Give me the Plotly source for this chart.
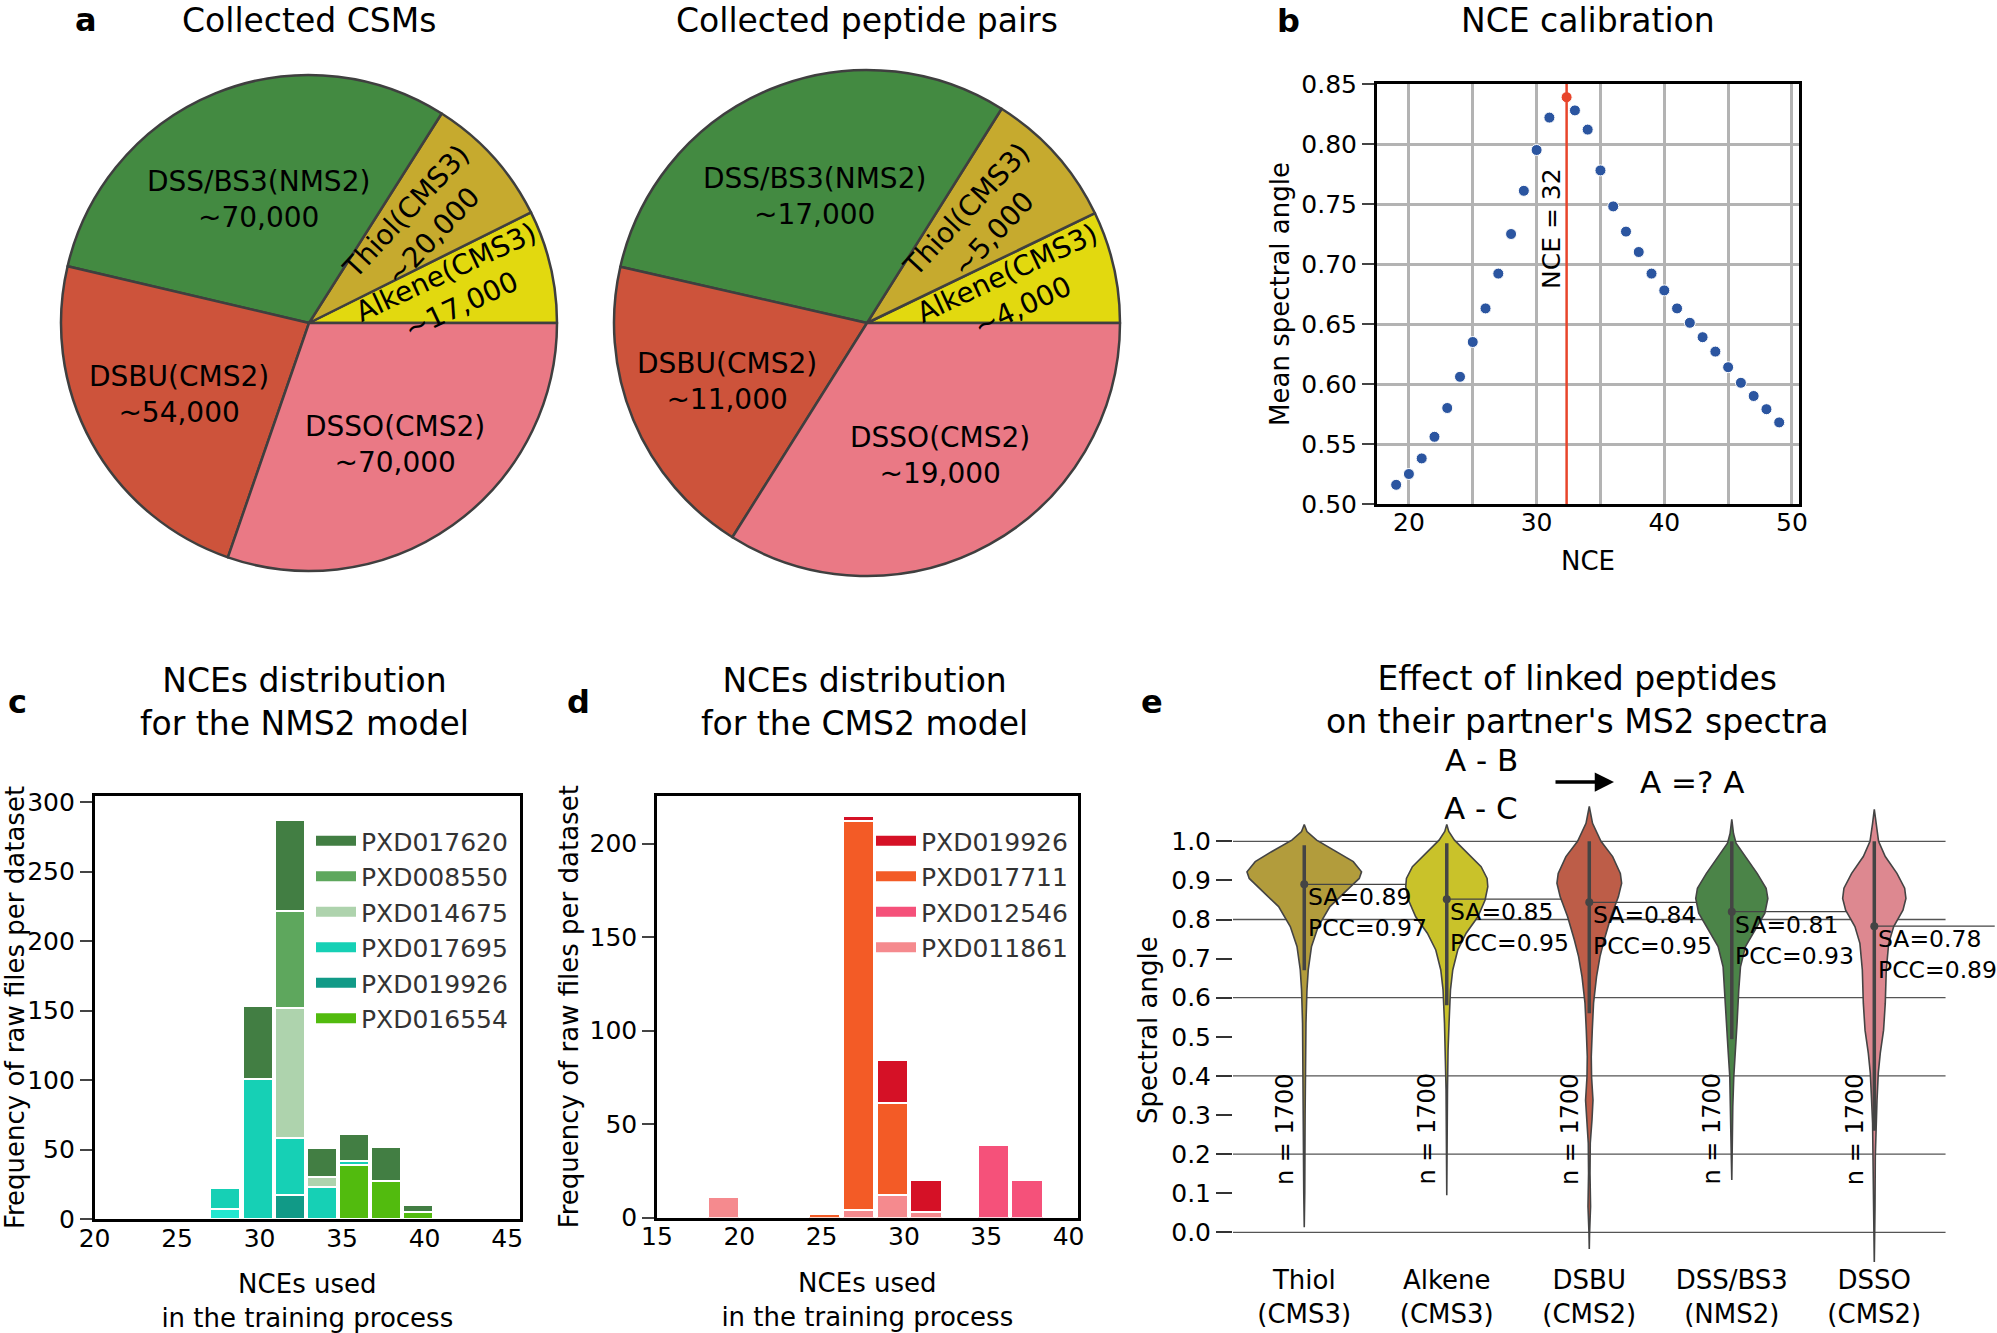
import math
import plotly.graph_objects as go

W, H = 1997, 1333
FONT = "DejaVu Sans"

# ---------------- data ----------------
# panel a (pie charts), slices counter-clockwise from 3 o'clock
pie_labels = ["Alkene(CMS3)", "Thiol(CMS3)", "DSS/BS3(NMS2)", "DSBU(CMS2)", "DSSO(CMS2)"]
csm_counts = [17000, 20000, 70000, 54000, 70000]
pair_counts = [4000, 5000, 17000, 11000, 19000]

# panel b (NCE calibration)
nce_values = [19, 20, 21, 22, 23, 24, 25, 26, 27, 28, 29, 30, 31,
              33, 34, 35, 36, 37, 38, 39, 40, 41, 42, 43, 44, 45, 46, 47, 48, 49]
nce_angles = [0.516, 0.525, 0.538, 0.556, 0.580, 0.606, 0.635, 0.663, 0.692, 0.725,
              0.761, 0.795, 0.822,
              0.828, 0.812, 0.778, 0.748, 0.727, 0.710, 0.692, 0.678, 0.663, 0.651,
              0.639, 0.627, 0.614, 0.601, 0.590, 0.579, 0.568]
best_nce = 32.35
best_angle = 0.839
best_label = "NCE = 32"

# panel c (NMS2 model, stacked histogram, bottom -> top)
c_bins = [27.90, 29.86, 31.80, 33.74, 35.69, 37.64, 39.59]
c_series = [
    ("", [7, 0, 0, 0, 0, 0, 0]),
    ("PXD016554", [0, 0, 0, 0, 39, 27, 5]),
    ("PXD019926", [0, 0, 17, 0, 0, 0, 0]),
    ("PXD017695", [15, 101, 41, 23, 3, 0, 0]),
    ("PXD014675", [0, 0, 94, 7, 0, 0, 0]),
    ("PXD008550", [0, 0, 70, 0, 0, 0, 0]),
    ("PXD017620", [0, 52, 65, 21, 19, 25, 5]),
]

# panel d (CMS2 model, stacked histogram, bottom -> top)
d_bins = [19.06, 25.19, 27.24, 29.29, 31.34, 35.43, 37.48]
d_series = [
    ("PXD011861", [11, 0, 4, 12, 3, 0, 0]),
    ("PXD012546", [0, 0, 0, 0, 0, 39, 20]),
    ("PXD017711", [0, 2, 208, 49, 0, 0, 0]),
    ("PXD019926", [0, 0, 3, 23, 17, 0, 0]),
]

# panel e (violins: spectral angle level -> half width)
e_categories = ["Thiol<br>(CMS3)", "Alkene<br>(CMS3)", "DSBU<br>(CMS2)",
                "DSS/BS3<br>(NMS2)", "DSSO<br>(CMS2)"]
thiol_y = [1.043, 1.025, 1.003, 0.974, 0.948, 0.922, 0.905, 0.893, 0.867, 0.833, 0.782,
           0.731, 0.671, 0.62, 0.535, 0.45, 0.3, 0.1, 0.013]
thiol_w = [0, .019, .087, .227, .344, .402, .386, .351, .274, .180, .098,
           .051, .028, .019, .012, .008, .006, .0035, 0]
alkene_y = [1.043, 1.025, 1.003, 0.969, 0.935, 0.905, 0.884, 0.85, 0.807, 0.765, 0.722,
            0.671, 0.62, 0.535, 0.466, 0.364, 0.095]
alkene_w = [0, .014, .054, .147, .241, .283, .288, .269, .218, .136, .077,
            .042, .026, .016, .009, .005, 0]
dsbu_y = [1.089, 1.046, 1.0, 0.961, 0.918, 0.893, 0.858, 0.807, 0.748, 0.705, 0.654,
          0.586, 0.517, 0.449, 0.398, 0.338, 0.287, 0.228, 0.151, 0.066, -0.003, -0.043]
dsbu_w = [0, .023, .082, .164, .218, .227, .204, .152, .105, .075, .051,
          .030, .021, .014, .016, .026, .019, .007, .005, .009, .002, 0]
dss_y = [1.056, 1.02, 0.995, 0.961, 0.918, 0.88, 0.854, 0.816, 0.773, 0.731, 0.679,
         0.62, 0.535, 0.466, 0.398, 0.321, 0.194, 0.134]
dss_w = [0, .012, .030, .096, .178, .241, .253, .232, .166, .096, .061,
         .049, .037, .026, .014, .007, .0035, 0]
dsso_y = [1.082, 1.046, 1.0, 0.961, 0.918, 0.88, 0.854, 0.824, 0.782, 0.739, 0.671,
          0.586, 0.517, 0.458, 0.407, 0.338, 0.279, 0.194, 0.066, -0.079]
dsso_w = [0, .012, .030, .077, .159, .213, .222, .201, .136, .101, .084,
          .077, .065, .042, .028, .019, .012, .007, .005, 0]
violin_profiles = [(thiol_y, thiol_w), (alkene_y, alkene_w), (dsbu_y, dsbu_w),
                   (dss_y, dss_w), (dsso_y, dsso_w)]
inner_low = [0.67, 0.581, 0.56, 0.494, 0.26]
inner_high = [0.99, 0.995, 1.0, 1.0, 1.0]
mean_sa = [0.890, 0.852, 0.844, 0.820, 0.783]
sa_text = ["0.89", "0.85", "0.84", "0.81", "0.78"]
pcc_text = ["0.97", "0.95", "0.95", "0.93", "0.89"]
n_pairs = [1700, 1700, 1700, 1700, 1700]
e_yticks = [0.0, 0.1, 0.2, 0.3, 0.4, 0.5, 0.6, 0.7, 0.8, 0.9, 1.0]
e_grid = [0.0, 0.2, 0.4, 0.6, 0.8, 1.0]

# ---------------- styles ----------------
pie_colors = ["#e2d90f", "#c6aa2e", "#438a41", "#cd533b", "#ea7985"]
label_rotation = {"Thiol(CMS3)": 47, "Alkene(CMS3)": 25}
label_distance = {"DSS/BS3(NMS2)": 0.54}
c_colors = {"": "#22e6cf", "PXD016554": "#52bb0e", "PXD019926": "#119a87",
            "PXD017695": "#16d0b5", "PXD014675": "#aed3ad", "PXD008550": "#5ea75d",
            "PXD017620": "#427e43"}
d_colors = {"PXD011861": "#f58a8e", "PXD012546": "#f5517a", "PXD017711": "#f35b26",
            "PXD019926": "#d51126"}
violin_colors = ["#b29c3c", "#c9c22a", "#bd5d48", "#4b8448", "#dd8890"]
DARK = "#444444"


def px_x(x):
    return x / W


def px_y(y):
    return 1 - y / H


def note(text, x, y, size, **kw):
    d = dict(text=text, x=x, y=y, xref="paper", yref="paper", showarrow=False,
             xanchor="center", yanchor="middle", font=dict(size=size, family=FONT,
                                                          color="black"))
    d.update(kw)
    return d


fig = go.Figure()
annotations = []
shapes = []

# ---------------- panel a ----------------
pies = [(csm_counts, 309, 323, 248, "Collected CSMs"),
        (pair_counts, 867, 323, 253, "Collected peptide pairs")]
for vals, cx, cy, r, title in pies:
    total = sum(vals)
    first_span = 360.0 * vals[0] / total
    # counter-clockwise pie whose first slice starts at 3 o'clock
    fig.add_trace(go.Pie(
        values=vals, labels=pie_labels, sort=False, direction="counterclockwise",
        rotation=90 - first_span, textinfo="none", hoverinfo="label+value",
        showlegend=False,
        marker=dict(colors=pie_colors, line=dict(color="#3f3f3f", width=2.5)),
        domain=dict(x=[px_x(cx - r), px_x(cx + r)], y=[px_y(cy + r), px_y(cy - r)]),
    ))
    start = 0.0
    for lab, v in zip(pie_labels, vals):
        span = 360.0 * v / total
        mid = math.radians(start + span / 2)
        start += span
        dist = label_distance.get(lab, 0.6) * r
        tx = cx + dist * math.cos(mid)
        ty = cy - dist * math.sin(mid)
        annotations.append(note(f"{lab}<br>~{v:,}", px_x(tx), px_y(ty), 28,
                                textangle=-label_rotation.get(lab, 0)))
    annotations.append(note(title, px_x(cx), px_y(21), 33))

# ---------------- panel b ----------------
fig.add_trace(go.Scatter(
    x=nce_values, y=nce_angles, mode="markers", showlegend=False,
    marker=dict(color="#2b55a0", size=11, line=dict(color="white", width=1)),
    xaxis="x", yaxis="y"))
fig.add_trace(go.Scatter(
    x=[best_nce], y=[best_angle], mode="markers", showlegend=False,
    marker=dict(color="#e8452b", size=11, line=dict(color="white", width=1)),
    xaxis="x", yaxis="y"))
shapes.append(dict(type="line", xref="x", yref="y domain", x0=best_nce, x1=best_nce,
                   y0=0, y1=1, line=dict(color="#e8452b", width=2.5)))
annotations.append(dict(text=best_label, x=best_nce - 1.15, y=0.73, xref="x", yref="y",
                        showarrow=False, textangle=-90, xanchor="center",
                        yanchor="middle", font=dict(size=25)))
annotations.append(note("NCE calibration", px_x(1588), px_y(21), 33))


# ---------------- panels c, d (stacked histograms) ----------------
def add_hist(series, bins, colors, width, xa, ya, legend_id):
    for name, vals in series:
        fig.add_trace(go.Bar(
            x=bins, y=[v if v else None for v in vals], width=width, name=name,
            legendgroup=f"{legend_id}-{name}",
            marker=dict(color=colors[name], line=dict(color="white", width=2)),
            showlegend=False, xaxis=xa, yaxis=ya))
        if name:
            # legend entry drawn as a wide colour patch
            fig.add_trace(go.Scatter(
                x=[None], y=[None], mode="lines", name=name,
                legendgroup=f"{legend_id}-{name}", legend=legend_id,
                line=dict(color=colors[name], width=13), showlegend=True,
                xaxis=xa, yaxis=ya))


add_hist(c_series, c_bins, c_colors, 1.82, "x2", "y2", "legend")
add_hist(d_series, d_bins, d_colors, 1.9, "x3", "y3", "legend2")

annotations.append(note("NCEs distribution<br>for the NMS2 model", px_x(304), px_y(702), 33))
annotations.append(note("NCEs distribution<br>for the CMS2 model", px_x(864), px_y(702), 33))

# ---------------- panel e ----------------
for g in e_grid:
    shapes.append(dict(type="line", xref="x4", yref="y4", x0=-0.5, x1=4.5, y0=g, y1=g,
                       line=dict(color="#555555", width=1.3), layer="below"))
for i, (ys, ws) in enumerate(violin_profiles):
    xs = [i + w for w in ws] + [i - w for w in reversed(ws)]
    yy = list(ys) + list(reversed(ys))
    fig.add_trace(go.Scatter(
        x=xs + [xs[0]], y=yy + [yy[0]], mode="lines", fill="toself",
        fillcolor=violin_colors[i], line=dict(color=DARK, width=1.6),
        showlegend=False, hoverinfo="skip", xaxis="x4", yaxis="y4"))
    fig.add_trace(go.Scatter(
        x=[i, i], y=[inner_low[i], inner_high[i]], mode="lines",
        line=dict(color=DARK, width=3.5), showlegend=False, hoverinfo="skip",
        xaxis="x4", yaxis="y4"))
    fig.add_trace(go.Scatter(
        x=[i, i + 0.845], y=[mean_sa[i], mean_sa[i]], mode="lines",
        line=dict(color=DARK, width=1.2), showlegend=False, hoverinfo="skip",
        xaxis="x4", yaxis="y4"))
    annotations.append(dict(
        text=f"SA={sa_text[i]}<br>PCC={pcc_text[i]}", x=i + 0.01, y=mean_sa[i] - 0.073,
        xref="x4", yref="y4", showarrow=False, xanchor="left", yanchor="middle",
        align="left", font=dict(size=23.5)))
    annotations.append(dict(
        text=f"n = {n_pairs[i]}", x=i - 0.135, y=0.264, xref="x4", yref="y4",
        showarrow=False, textangle=-90, xanchor="center", yanchor="middle",
        font=dict(size=24)))
fig.add_trace(go.Scatter(
    x=list(range(len(mean_sa))), y=mean_sa, mode="markers",
    marker=dict(color=DARK, size=8), showlegend=False, xaxis="x4", yaxis="y4"))

annotations.append(note("Effect of linked peptides<br>on their partner's MS2 spectra",
                        px_x(1577), px_y(700), 33))
annotations.append(note("A - B", px_x(1481), px_y(760), 31))
annotations.append(note("A - C", px_x(1481), px_y(808), 31))
annotations.append(note("A =? A", px_x(1692), px_y(782), 31))
annotations.append(dict(text="", x=px_x(1614), y=px_y(782), xref="paper", yref="paper",
                        showarrow=True, ax=-60, ay=0, axref="pixel", ayref="pixel",
                        arrowhead=2, arrowsize=1.1, arrowwidth=3.5, arrowcolor="black"))

# panel letters
for letter, lx, ly in [("a", 86, 20), ("b", 1288, 21), ("c", 17, 702), ("d", 578, 702),
                       ("e", 1152, 702)]:
    annotations.append(note(f"<b>{letter}</b>", px_x(lx), px_y(ly), 32))

# ---------------- axes ----------------
GRID = "#b3b3b3"
frame = dict(showline=True, linecolor="black", linewidth=3, mirror=True, zeroline=False)
tickf = dict(size=25, family=FONT, color="black")
titlef = dict(size=26, family=FONT, color="black")

fig.update_layout(
    width=W, height=H, margin=dict(l=0, r=0, t=0, b=0, pad=0, autoexpand=False),
    paper_bgcolor="white", plot_bgcolor="white",
    font=dict(family=FONT, size=25, color="black"),
    barmode="stack", bargap=0,
    annotations=annotations, shapes=shapes,
    xaxis=dict(domain=[px_x(1377), px_x(1799)], range=[17.5, 50.55], anchor="y",
               tick0=0, dtick=10, showgrid=True, gridcolor=GRID, gridwidth=3,
               minor=dict(dtick=5, tick0=0, showgrid=True, gridcolor=GRID, gridwidth=3,
                          ticks=""),
               ticks="", tickfont=tickf, ticklabelstandoff=-6,
               title=dict(text="NCE", font=titlef, standoff=16), **frame),
    yaxis=dict(domain=[px_y(504), px_y(84)], range=[0.5, 0.85], anchor="x",
               tick0=0.5, dtick=0.05, tickformat=".2f", showgrid=True, gridcolor=GRID,
               gridwidth=3, ticks="outside", ticklen=12, tickwidth=2, tickfont=tickf,
               title=dict(text="Mean spectral angle", font=titlef, standoff=5), **frame),
    xaxis2=dict(domain=[px_x(94.6), px_x(520)], range=[20, 45.78], anchor="y2",
                tick0=0, dtick=5, ticks="", showgrid=False, tickfont=tickf,
                ticklabelstandoff=-5,
                title=dict(text="NCEs used<br>in the training process", font=titlef,
                           standoff=24), **dict(frame, linewidth=2.5)),
    yaxis2=dict(domain=[px_y(1219), px_y(796)], range=[0, 304.5], anchor="x2",
                tick0=0, dtick=50, ticks="outside", ticklen=12, tickwidth=2,
                showgrid=False, tickfont=tickf,
                title=dict(text="Frequency of raw files per dataset", font=titlef,
                           standoff=4), **dict(frame, linewidth=2.5)),
    xaxis3=dict(domain=[px_x(657), px_x(1077.6)], range=[15, 40.55], anchor="y3",
                tick0=0, dtick=5, ticks="", showgrid=False, tickfont=tickf,
                ticklabelstandoff=-5,
                title=dict(text="NCEs used<br>in the training process", font=titlef,
                           standoff=24), **dict(frame, linewidth=2.5)),
    yaxis3=dict(domain=[px_y(1217.5), px_y(796)], range=[0, 225.5], anchor="x3",
                tick0=0, dtick=50, ticks="outside", ticklen=12, tickwidth=2,
                showgrid=False, tickfont=tickf,
                title=dict(text="Frequency of raw files per dataset", font=titlef,
                           standoff=4), **dict(frame, linewidth=2.5)),
    xaxis4=dict(domain=[px_x(1233), 1.0], range=[-0.5, 4.861], anchor="y4",
                tickmode="array", tickvals=list(range(len(e_categories))),
                ticktext=e_categories, ticks="", showgrid=False, showline=False,
                zeroline=False, ticklabelstandoff=0,
                tickfont=dict(size=26, family=FONT, color="black")),
    yaxis4=dict(domain=[px_y(1262), px_y(798.3)], range=[-0.076, 1.11], anchor="x4",
                tickmode="array", tickvals=e_yticks,
                ticktext=[f"{v:.1f}" for v in e_yticks], ticks="outside", ticklen=16,
                tickwidth=2, tickcolor="#333333", showgrid=False, showline=False,
                zeroline=False, tickfont=tickf,
                title=dict(text="Spectral angle", font=titlef, standoff=6)),
    legend=dict(x=px_x(311), y=px_y(818), xanchor="left", yanchor="top",
                traceorder="reversed", bgcolor="rgba(0,0,0,0)", itemwidth=40,
                font=dict(size=25, family=FONT, color="#333333")),
    legend2=dict(x=px_x(871), y=px_y(818), xanchor="left", yanchor="top",
                 traceorder="reversed", bgcolor="rgba(0,0,0,0)", itemwidth=40,
                 font=dict(size=25, family=FONT, color="#333333")),
)

fig.write_html("out.html", config={"displayModeBar": False},
               post_script="document.body.style.margin='0px';")
